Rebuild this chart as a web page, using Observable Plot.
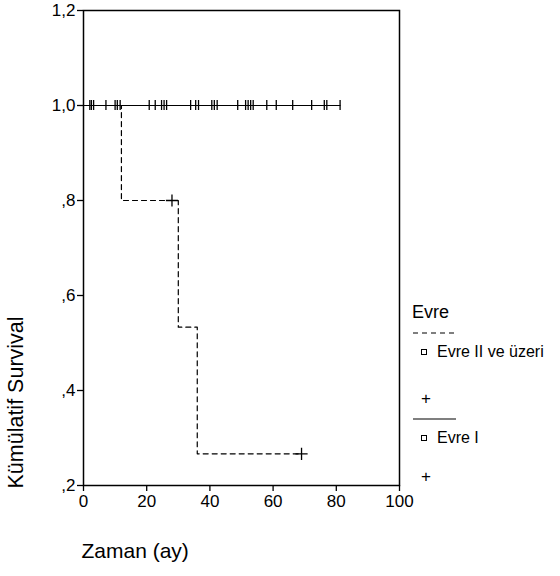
<!DOCTYPE html>
<html>
<head>
<meta charset="utf-8">
<script src="https://cdn.jsdelivr.net/npm/d3@7"></script>
<script src="https://cdn.jsdelivr.net/npm/@observablehq/plot@0.6"></script>
<style>
  html, body { margin: 0; padding: 0; background: #fff; }
  #chart { position: relative; width: 560px; height: 576px; }
  svg { font-family: "Liberation Sans", Arial, sans-serif; }
</style>
</head>
<body>
<div id="chart"></div>
<script>
// ---- data ----
const groups = ["Evre II ve üzeri", "Evre I"];
const legendTitle = "Evre";
const xTitle = "Zaman (ay)";
const yTitle = "Kümülatif Survival";

// Evre II ve üzeri: Kaplan-Meier step points
const evre2Times = [0, 12, 30, 36, 69];
const evre2Surv  = [1.0, 0.8, 0.5333, 0.2667, 0.2667];
const evre2CensorTimes = [28, 69];
const evre2CensorSurv  = [0.8, 0.2667];

// Evre I: no events, censored times
const evre1CensorTimes = [2, 2.5, 3.2, 7.1, 10, 10.7, 11.6, 20.8, 22.7, 24.7, 25.5, 26.3,
  33.9, 35.5, 36.4, 40.6, 41.4, 42.3, 48.8, 51.3, 52.1, 52.9, 53.7, 58, 61, 66.2, 72.2,
  76.2, 77, 81.2];

const xTicks = [0, 20, 40, 60, 80, 100];
const yTicks = [0.2, 0.4, 0.6, 0.8, 1.0, 1.2];
const yTickLabels = [",2", ",4", ",6", ",8", "1,0", "1,2"];

// ---- build tables ----
const evre2Line = evre2Times.map((t, i) => ({t, s: evre2Surv[i]}));
const evre2Cens = evre2CensorTimes.map((t, i) => ({t, s: evre2CensorSurv[i]}));
const evre1Line = [0, ...evre1CensorTimes].map(t => ({t, s: 1.0}));
const evre1Cens = evre1CensorTimes.map(t => ({t, s: 1.0}));

const W = 560, H = 576;
const chart = Plot.plot({
  width: W,
  height: H,
  marginLeft: 83,
  marginRight: 161,
  marginTop: 10,
  marginBottom: 91,
  style: {fontFamily: '"Liberation Sans", Arial, sans-serif', fontSize: "17px", color: "#000", background: "#fff"},
  x: {type: "linear", domain: [0, 100], ticks: xTicks, label: null},
  y: {type: "linear", domain: [0.2, 1.2], ticks: yTicks, label: null},
  marks: [
    Plot.axisX({ticks: xTicks, tickSize: 6, tickPadding: 3, label: null, fontSize: 17, stroke: "#000", strokeWidth: 1.3}),
    Plot.axisY({ticks: yTicks, tickSize: 6, tickPadding: 2, label: null, fontSize: 17,
      tickFormat: d => yTickLabels[yTicks.findIndex(v => Math.abs(v - d) < 1e-9)], stroke: "#000", strokeWidth: 1.3}),
    Plot.frame({stroke: "#000", strokeWidth: 1.5}),
    Plot.line(evre1Line, {x: "t", y: "s", stroke: "#000", strokeWidth: 1.2}),
    Plot.line(evre2Line, {x: "t", y: "s", curve: "step-after", stroke: "#000", strokeWidth: 1.2, strokeDasharray: "5,4"}),
    Plot.ruleX(evre1Cens, {x: "t", y1: "s", y2: "s", insetTop: -5, insetBottom: -5, stroke: "#000", strokeWidth: 1.3}),
    Plot.dot(evre2Cens, {x: "t", y: "s", symbol: "plus", r: 4, stroke: "#000", strokeWidth: 1.3}),
    Plot.text([yTitle], {frameAnchor: "bottom-left", rotate: -90, textAnchor: "start", dx: -61, dy: 3, fontSize: 21.5, fill: "#000"}),
    Plot.text([xTitle], {frameAnchor: "bottom-left", textAnchor: "start", dx: -2, dy: 72, fontSize: 21, fill: "#000"})
  ]
});
document.getElementById("chart").appendChild(chart);

// ---- legend (drawn into the same svg, right of the plot) ----
const svg = d3.select(chart);
const lg = svg.append("g").attr("font-family", '"Liberation Sans", Arial, sans-serif')
  .attr("fill", "#000").attr("text-anchor", "start");
lg.append("text").attr("x", 412).attr("y", 318).attr("font-size", 18).text(legendTitle);
const styles = [{dash: "5,4", y0: 333, plusY: 404}, {dash: null, y0: 419, plusY: 482}];
groups.forEach((g, i) => {
  const y0 = styles[i].y0;
  const ln = lg.append("line").attr("x1", 413).attr("x2", 456).attr("y1", y0).attr("y2", y0)
    .attr("stroke", "#000").attr("stroke-width", 1.2);
  if (styles[i].dash) ln.attr("stroke-dasharray", styles[i].dash);
  lg.append("rect").attr("x", 421.5).attr("y", y0 + 16.5).attr("width", 5).attr("height", 5)
    .attr("fill", "none").attr("stroke", "#000").attr("stroke-width", 1);
  lg.append("text").attr("x", 437).attr("y", y0 + 24).attr("font-size", 16).text(g);
  lg.append("text").attr("x", 421).attr("y", styles[i].plusY).attr("font-size", 17).text("+");
});
</script>
</body>
</html>
